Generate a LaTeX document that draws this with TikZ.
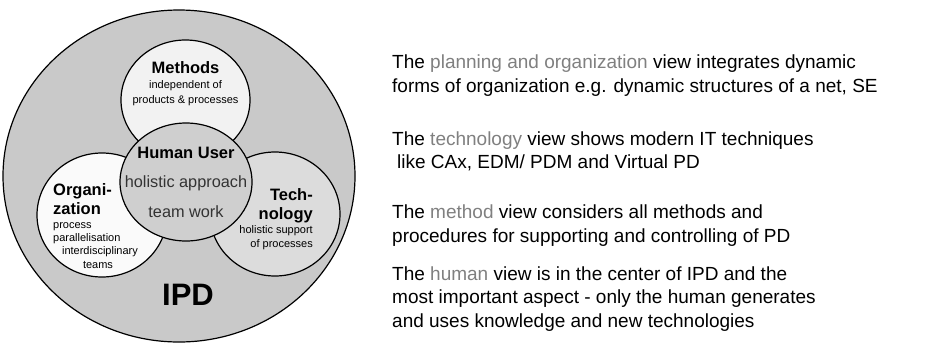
\documentclass[tikz,border=0pt]{standalone}
\usepackage{fontspec}
\setmainfont{Liberation Sans}
\usetikzlibrary{shapes.geometric}
\definecolor{ringgray}{HTML}{C9C9C9}
\definecolor{methfill}{HTML}{F2F2F2}
\definecolor{orgfill}{HTML}{FAFAFA}
\definecolor{techfill}{HTML}{DCDCDC}
\definecolor{userfill}{HTML}{CFCFCF}
\definecolor{hilite}{HTML}{808080}
\definecolor{softtext}{HTML}{333333}
\tikzset{
  view/.style={ellipse, draw=black, line width=1.2pt, inner sep=0pt},
  title/.style={anchor=base, font=\fontsize{16.5}{18}\bfseries\selectfont},
  note/.style={anchor=base, font=\fontsize{11}{12}\selectfont},
  core/.style={anchor=base, text=softtext, font=\fontsize{16.3}{18}\selectfont},
  desc/.style={anchor=base west, font=\fontsize{19}{20}\selectfont, inner sep=0pt},
}
\newcommand{\hl}[1]{\textcolor{hilite}{#1}}
\begin{document}
\begin{tikzpicture}[x=1pt,y=-1pt]
\useasboundingbox (0,0) rectangle (952,346);
\fill[white] (0,0) rectangle (952,346);
% outer IPD ring and the four views
\node[view, fill=ringgray, minimum width=352pt, minimum height=332pt] (ipd) at (179,176) {};
\node[view, fill=methfill, minimum width=129pt, minimum height=120pt] (meth) at (185.5,100) {};
\node[view, fill=orgfill, minimum width=130pt, minimum height=124pt] (org) at (102,215) {};
\node[view, fill=techfill, minimum width=130pt, minimum height=124pt] (tech) at (275,214) {};
\node[view, fill=userfill, minimum width=132pt, minimum height=118pt] (user) at (186,182) {};
% methods
\node[title] (methT) at (185.5,73) {Methods};
\node[note] (methA) at (185.5,88) {independent of};
\node[note] (methB) at (185.5,103) {products \& processes};
% human user
\node[title] (userT) at (186,158) {Human User};
\node[core] (userA) at (186,187) {holistic approach};
\node[core] (userB) at (186,217) {team work};
% organization
\node[title, anchor=base west, inner sep=0pt] (orgT) at (53,195) {Organi-};
\node[title, anchor=base west, inner sep=0pt] (orgU) at (53,214) {zation};
\node[note, anchor=base west, inner sep=0pt] (orgA) at (53,228) {process};
\node[note, anchor=base west, inner sep=0pt] (orgB) at (53,241) {parallelisation};
\node[note] (orgC) at (100,254) {interdisciplinary};
\node[note] (orgD) at (98,268) {teams};
% technology
\node[title, anchor=base east, inner sep=0pt] (techT) at (313,200) {Tech-};
\node[title, anchor=base east, inner sep=0pt] (techU) at (313,219) {nology};
\node[note, anchor=base east, inner sep=0pt] (techA) at (313,233) {holistic support};
\node[note, anchor=base east, inner sep=0pt] (techB) at (313,247) {of processes};
% label of the whole
\node[anchor=base, font=\fontsize{31}{33}\bfseries\selectfont] (ipdT) at (188,305) {IPD};
% explanations
\node[desc] (d1) at (392,68) {The \hl{planning and organization} view integrates dynamic};
\node[desc] (d2) at (392,92) {forms of organization e.g. dynamic structures of a net, SE};
\node[desc] (d3) at (392,145) {The \hl{technology} view shows modern IT techniques};
\node[desc] (d4) at (397,168) {like CAx, EDM/ PDM and Virtual PD};
\node[desc] (d5) at (392,218) {The \hl{method} view considers all methods and};
\node[desc] (d6) at (392,242) {procedures for supporting and controlling of PD};
\node[desc] (d7) at (392,280) {The \hl{human} view is in the center of IPD and the};
\node[desc] (d8) at (392,303) {most important aspect - only the human generates};
\node[desc] (d9) at (392,327) {and uses knowledge and new technologies};
\end{tikzpicture}
\end{document}
